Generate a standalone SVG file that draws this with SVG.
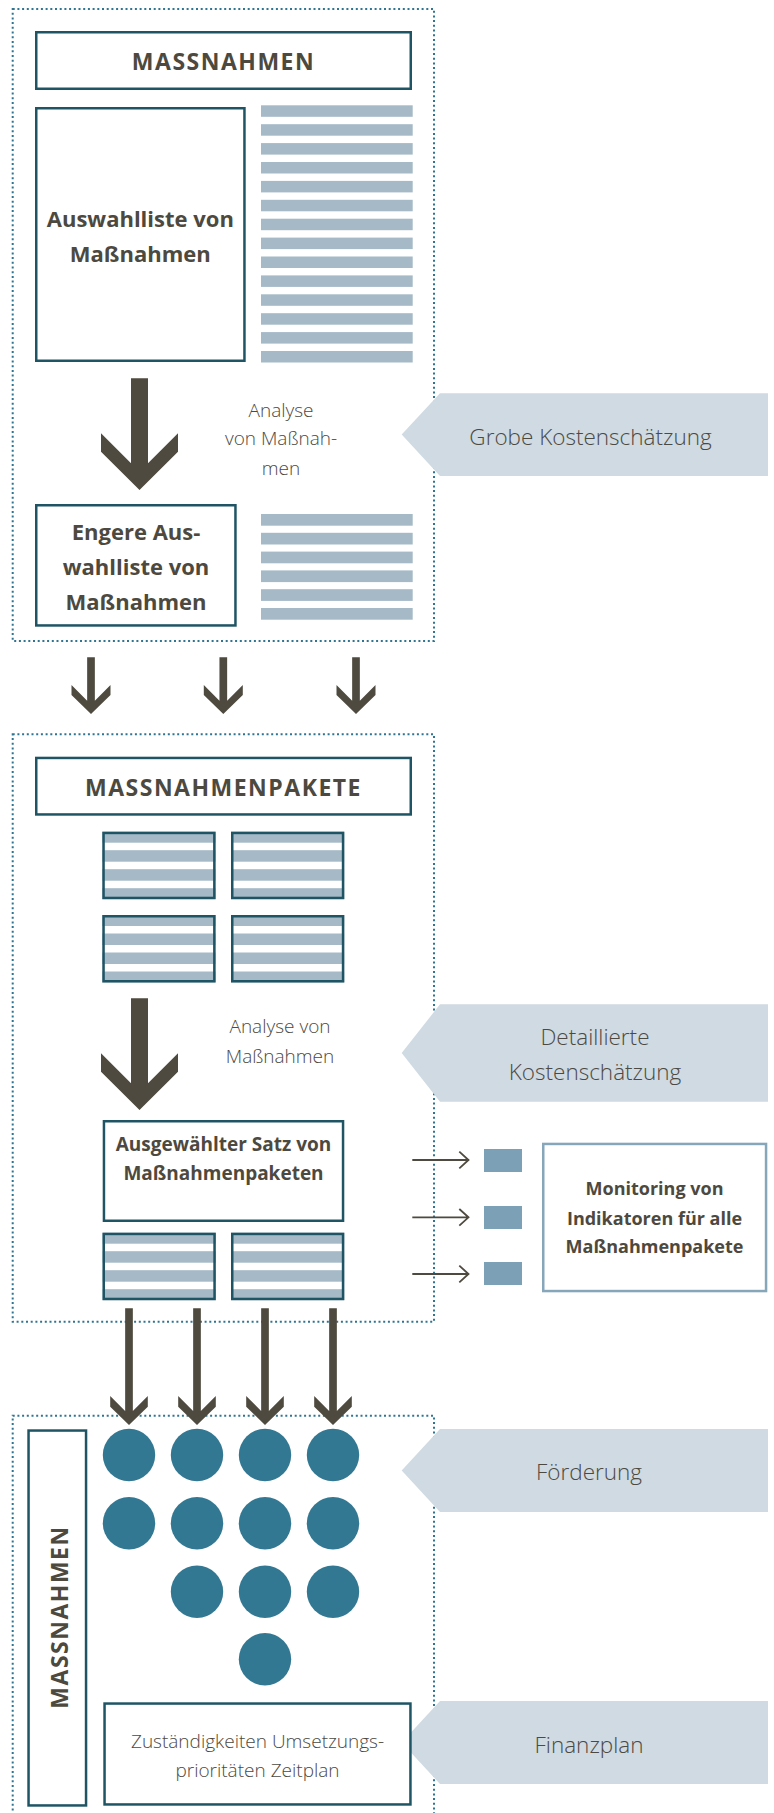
<svg xmlns="http://www.w3.org/2000/svg" xmlns:xlink="http://www.w3.org/1999/xlink" width="774" height="1813" viewBox="0 0 774 1813">
<style>
.frame{fill:none;stroke:#2f7491;stroke-width:2;stroke-dasharray:2 2.7}
.box{fill:#fff;stroke:#1e5464;stroke-width:2.5}
.mbox{fill:#fff;stroke:#86a6ba;stroke-width:2.5}
.stripe{fill:#a5b9c7}
.tag{fill:#cfdae2}
.dot{fill:#337892}
.sq{fill:#7ca0b5}
.arrow{fill:#4f4a3f}
.thin{fill:none;stroke:#4f4a3f;stroke-width:1.8}
.hd{font-family:"Open Sans","Liberation Sans",sans-serif;font-weight:700;font-size:23px;letter-spacing:1.5px;fill:#4d493e;text-anchor:middle}
.bt{font-family:"Open Sans","Liberation Sans",sans-serif;font-weight:700;fill:#4d493e;text-anchor:middle}
.lt{font-family:"Open Sans","Liberation Sans",sans-serif;font-weight:300;fill:#4c4942;text-anchor:middle}
</style>
<defs>
<g id="pkg">
<rect x="0" y="0" width="113.3" height="67.5" class="stripe"/>
<rect x="0" y="11" width="113.3" height="7.5" fill="#fff"/>
<rect x="0" y="30" width="113.3" height="7.5" fill="#fff"/>
<rect x="0" y="49" width="113.3" height="7.5" fill="#fff"/>
<rect x="1.25" y="1.25" width="110.8" height="65" fill="none" stroke="#1e5464" stroke-width="2.5"/>
</g>
</defs>
<rect width="774" height="1813" fill="#fff"/>

<g id="frames">
<rect class="frame" x="12.7" y="9" width="421.3" height="632"/>
<rect class="frame" x="12.7" y="734.3" width="421.3" height="587.4"/>
<rect class="frame" x="12.7" y="1415.7" width="421.3" height="420"/>
</g>

<g id="tag-grobe">
<polygon class="tag" points="401.7,434.5 440,393.3 768,393.3 768,476 440,476"/>
<text class="lt" x="590.5" y="445" font-size="22.5">Grobe Kostenschätzung</text>
</g>
<g id="tag-detail">
<polygon class="tag" points="401.7,1053 440,1004.3 768,1004.3 768,1101.7 440,1101.7"/>
<text class="lt" x="595" y="1045" font-size="22.5">Detaillierte</text>
<text class="lt" x="595" y="1080" font-size="22.5">Kostenschätzung</text>
</g>
<g id="tag-foerderung">
<polygon class="tag" points="401.7,1470.5 440,1429 768,1429 768,1512 440,1512"/>
<text class="lt" x="589" y="1480" font-size="22.5">Förderung</text>
</g>
<g id="tag-finanzplan">
<polygon class="tag" points="401.7,1742.5 440,1701 768,1701 768,1784 440,1784"/>
<text class="lt" x="589" y="1752.7" font-size="22.5">Finanzplan</text>
</g>

<g id="massnahmen-header">
<rect class="box" x="36.25" y="32.25" width="374.5" height="56.5"/>
<text class="hd" x="223.5" y="70">MASSNAHMEN</text>
</g>
<g id="auswahlliste">
<rect class="box" x="36.25" y="108.25" width="208.2" height="252.5"/>
<text class="bt" x="140.3" y="227" font-size="22">Auswahlliste von</text>
<text class="bt" x="140.3" y="262" font-size="22">Maßnahmen</text>
</g>
<g id="stripes-long">
<rect class="stripe" x="261" y="105.3" width="151.7" height="11.5"/>
<rect class="stripe" x="261" y="124.2" width="151.7" height="11.5"/>
<rect class="stripe" x="261" y="143.1" width="151.7" height="11.5"/>
<rect class="stripe" x="261" y="162" width="151.7" height="11.5"/>
<rect class="stripe" x="261" y="180.9" width="151.7" height="11.5"/>
<rect class="stripe" x="261" y="199.8" width="151.7" height="11.5"/>
<rect class="stripe" x="261" y="218.7" width="151.7" height="11.5"/>
<rect class="stripe" x="261" y="237.6" width="151.7" height="11.5"/>
<rect class="stripe" x="261" y="256.5" width="151.7" height="11.5"/>
<rect class="stripe" x="261" y="275.4" width="151.7" height="11.5"/>
<rect class="stripe" x="261" y="294.3" width="151.7" height="11.5"/>
<rect class="stripe" x="261" y="313.2" width="151.7" height="11.5"/>
<rect class="stripe" x="261" y="332.1" width="151.7" height="11.5"/>
<rect class="stripe" x="261" y="351" width="151.7" height="11.5"/>
</g>
<g id="analyse-1">
<text class="lt" x="281" y="416.7" font-size="19">Analyse</text>
<text class="lt" x="281" y="445" font-size="19">von Maßnah-</text>
<text class="lt" x="281" y="475" font-size="19">men</text>
</g>
<g id="engere-auswahlliste">
<rect class="box" x="36.25" y="505.25" width="199.2" height="120.2"/>
<text class="bt" x="136" y="540" font-size="22">Engere Aus-</text>
<text class="bt" x="136" y="575" font-size="22">wahlliste von</text>
<text class="bt" x="136" y="610" font-size="22">Maßnahmen</text>
</g>
<g id="stripes-short">
<rect class="stripe" x="261" y="514" width="151.7" height="11.7"/>
<rect class="stripe" x="261" y="532.8" width="151.7" height="11.7"/>
<rect class="stripe" x="261" y="551.6" width="151.7" height="11.7"/>
<rect class="stripe" x="261" y="570.4" width="151.7" height="11.7"/>
<rect class="stripe" x="261" y="589.2" width="151.7" height="11.7"/>
<rect class="stripe" x="261" y="608" width="151.7" height="11.7"/>
</g>

<g id="massnahmenpakete-header">
<rect class="box" x="36.25" y="757.95" width="374.5" height="56.5"/>
<text class="hd" x="223.5" y="795.7">MASSNAHMENPAKETE</text>
</g>
<g id="pakete">
<use xlink:href="#pkg" x="102.3" y="831.7"/>
<use xlink:href="#pkg" x="231" y="831.7"/>
<use xlink:href="#pkg" x="102.3" y="915"/>
<use xlink:href="#pkg" x="231" y="915"/>
</g>
<g id="analyse-2">
<text class="lt" x="280" y="1033" font-size="19">Analyse von</text>
<text class="lt" x="280" y="1063" font-size="19">Maßnahmen</text>
</g>
<g id="ausgewaehlter-satz">
<rect class="box" x="103.95" y="1121.25" width="239.1" height="99.5"/>
<text class="bt" x="223.5" y="1150.7" font-size="19">Ausgewählter Satz von</text>
<text class="bt" x="223.5" y="1180" font-size="19">Maßnahmenpaketen</text>
</g>
<g id="pakete-auswahl">
<use xlink:href="#pkg" x="102.5" y="1232.7"/>
<use xlink:href="#pkg" x="231" y="1232.7"/>
</g>
<g id="indikatoren">
<rect class="sq" x="484" y="1149" width="38" height="23"/>
<rect class="sq" x="484" y="1206" width="38" height="23"/>
<rect class="sq" x="484" y="1262" width="38" height="23"/>
</g>
<g id="monitoring">
<rect class="mbox" x="543.25" y="1143.95" width="222.8" height="147.1"/>
<text class="bt" x="654.5" y="1195" font-size="18">Monitoring von</text>
<text class="bt" x="654.5" y="1225" font-size="18">Indikatoren für alle</text>
<text class="bt" x="654.5" y="1253.3" font-size="18">Maßnahmenpakete</text>
</g>

<g id="massnahmen-vertical">
<rect class="box" x="28.55" y="1430.55" width="57.5" height="374.9"/>
<text class="hd" transform="translate(68.3,1617) rotate(-90)" x="0" y="0">MASSNAHMEN</text>
</g>
<g id="massnahmen-dots">
<circle class="dot" cx="129" cy="1455" r="26.2"/>
<circle class="dot" cx="197" cy="1455" r="26.2"/>
<circle class="dot" cx="265" cy="1455" r="26.2"/>
<circle class="dot" cx="333" cy="1455" r="26.2"/>
<circle class="dot" cx="129" cy="1523.3" r="26.2"/>
<circle class="dot" cx="197" cy="1523.3" r="26.2"/>
<circle class="dot" cx="265" cy="1523.3" r="26.2"/>
<circle class="dot" cx="333" cy="1523.3" r="26.2"/>
<circle class="dot" cx="197" cy="1591.7" r="26.2"/>
<circle class="dot" cx="265" cy="1591.7" r="26.2"/>
<circle class="dot" cx="333" cy="1591.7" r="26.2"/>
<circle class="dot" cx="265" cy="1659.3" r="26.2"/>
</g>
<g id="umsetzung">
<rect class="box" x="104.55" y="1703.55" width="305.9" height="100.9"/>
<text class="lt" x="257.5" y="1748.3" font-size="19">Zuständigkeiten Umsetzungs-</text>
<text class="lt" x="257.5" y="1776.7" font-size="19">prioritäten Zeitplan</text>
</g>

<g id="connectors">
<polygon class="arrow" points="131,378.3 148,378.3 148,463.3 178,433.3 178,451.8 139.5,490 101,451.8 101,433.3 131,463.3"/>
<polygon class="arrow" points="131,998.3 148,998.3 148,1083.3 178,1053.3 178,1071.8 139.5,1110 101,1071.8 101,1053.3 131,1083.3"/>
<polygon class="arrow" points="87.15,657.3 94.85,657.3 94.85,700.7 110.5,685 110.5,695 91,714 71.5,695 71.5,685 87.15,700.7"/>
<polygon class="arrow" points="219.45,657.3 227.15,657.3 227.15,700.7 242.8,685 242.8,695 223.3,714 203.8,695 203.8,685 219.45,700.7"/>
<polygon class="arrow" points="352.15,657.3 359.85,657.3 359.85,700.7 375.5,685 375.5,695 356,714 336.5,695 336.5,685 352.15,700.7"/>
<polygon class="arrow" points="125.15,1308.3 132.85,1308.3 132.85,1411 147.8,1396 147.8,1406.7 129,1425 110.2,1406.7 110.2,1396 125.15,1411"/>
<polygon class="arrow" points="193.15,1308.3 200.85,1308.3 200.85,1411 215.8,1396 215.8,1406.7 197,1425 178.2,1406.7 178.2,1396 193.15,1411"/>
<polygon class="arrow" points="261.15,1308.3 268.85,1308.3 268.85,1411 283.8,1396 283.8,1406.7 265,1425 246.2,1406.7 246.2,1396 261.15,1411"/>
<polygon class="arrow" points="329.15,1308.3 336.85,1308.3 336.85,1411 351.8,1396 351.8,1406.7 333,1425 314.2,1406.7 314.2,1396 329.15,1411"/>
<path class="thin" d="M412.3,1160 H468.5 M459.3,1151.7 L468.5,1160 L459.3,1168.3"/>
<path class="thin" d="M412.3,1217.3 H468.5 M459.3,1209 L468.5,1217.3 L459.3,1225.6"/>
<path class="thin" d="M412.3,1274 H468.5 M459.3,1265.7 L468.5,1274 L459.3,1282.3"/>
</g>
</svg>
